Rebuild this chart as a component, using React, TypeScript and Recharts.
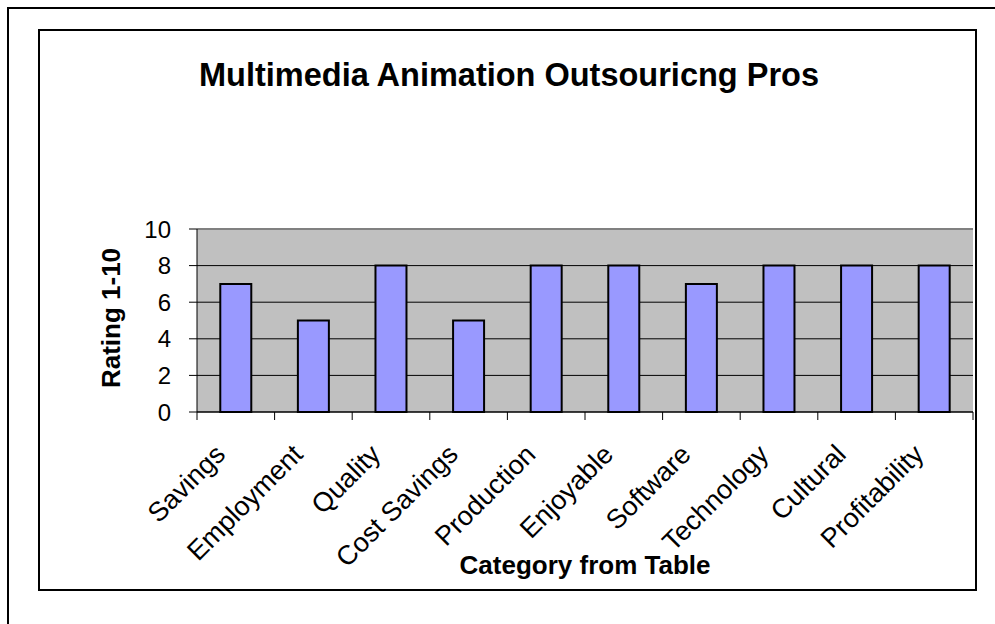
import React from 'react'
import { BarChart, Bar, XAxis, YAxis, CartesianGrid, ReferenceLine, Label } from 'recharts'

const categories = [
  'Savings',
  'Employment',
  'Quality',
  'Cost Savings',
  'Production',
  'Enjoyable',
  'Software',
  'Technology',
  'Cultural',
  'Profitability',
]
const ratings = [7, 5, 8, 5, 8, 8, 7, 8, 8, 8]
const yTicks = [0, 2, 4, 6, 8, 10]

const data = categories.map((name, i) => ({ name, rating: ratings[i] }))

const FONT = '"Liberation Sans", Arial, sans-serif'

// label rotated like Excel, plus tick marks on the category edges
const CategoryTick = (props: any) => {
  const { x, y, payload, index, width, visibleTicksCount } = props
  const bw = width / visibleTicksCount
  const tx = x - 9
  const ty = y + 44
  return (
    <g>
      <line x1={x - bw / 2} x2={x - bw / 2} y1={y} y2={y + 8} stroke="#000" strokeWidth={1} />
      {index === visibleTicksCount - 1 && (
        <line x1={x + bw / 2} x2={x + bw / 2} y1={y} y2={y + 8} stroke="#000" strokeWidth={1} />
      )}
      <text
        x={tx}
        y={ty}
        textAnchor="end"
        transform={`rotate(-45, ${tx}, ${ty})`}
        fontFamily={FONT}
        fontSize={27}
        fill="#000"
      >
        {payload.value}
      </text>
    </g>
  )
}

const YTitle = (props: any) => {
  const { viewBox } = props
  const cx = viewBox.x + 111
  const cy = 318
  return (
    <text
      x={cx}
      y={cy}
      textAnchor="middle"
      dominantBaseline="central"
      transform={`rotate(-90, ${cx}, ${cy})`}
      fontFamily={FONT}
      fontSize={26}
      fontWeight="bold"
      fill="#000"
    >
      Rating 1-10
    </text>
  )
}

const App: React.FC = () => {
  return (
    <div style={{ position: 'absolute', left: 0, top: 0, width: 995, height: 624, background: '#fff' }}>
      {/* outer frame, only top and left edges visible */}
      <div style={{ position: 'absolute', left: 7, top: 7, width: 988, height: 617, borderTop: '2px solid #000', borderLeft: '2px solid #000' }} />
      {/* chart area frame */}
      <div style={{ position: 'absolute', left: 38, top: 29, width: 935, height: 558, border: '2px solid #000' }} />
      <div
        style={{
          position: 'absolute',
          left: 39,
          top: 59,
          width: 940,
          textAlign: 'center',
          fontFamily: FONT,
          fontWeight: 'bold',
          fontSize: 32.5,
          lineHeight: 1,
        }}
      >
        Multimedia Animation Outsouricng Pros
      </div>
      <div style={{ position: 'absolute', left: 0, top: 0 }}>
        <BarChart
          width={995}
          height={624}
          data={data}
          margin={{ top: 229, right: 22, bottom: 0, left: 0 }}
          barCategoryGap="30%"
        >
          <CartesianGrid
            vertical={false}
            fill="#c0c0c0"
            fillOpacity={1}
            stroke="#000"
            strokeWidth={1}
            syncWithTicks
          />
          <ReferenceLine y={10} stroke="#808080" strokeWidth={2} />
          <XAxis
            dataKey="name"
            height={212}
            interval={0}
            axisLine={{ stroke: '#000', strokeWidth: 1 }}
            tickLine={false}
            tickSize={0}
            tickMargin={0}
            tick={CategoryTick}
          >
            <Label
              value="Category from Table"
              position="insideBottom"
              offset={50}
              style={{ fontFamily: FONT, fontSize: 26, fontWeight: 'bold', fill: '#000' }}
            />
          </XAxis>
          <YAxis
            width={197}
            domain={[0, 10]}
            ticks={yTicks}
            interval={0}
            axisLine={{ stroke: '#000', strokeWidth: 1 }}
            tickLine={{ stroke: '#000', strokeWidth: 1 }}
            tickSize={8}
            tickMargin={18}
            tick={{ fontFamily: FONT, fontSize: 24, fill: '#000' }}
          >
            <Label content={YTitle} />
          </YAxis>
          <Bar dataKey="rating" fill="#9999ff" stroke="#000" strokeWidth={2} isAnimationActive={false} />
        </BarChart>
      </div>
    </div>
  )
}

export default App
